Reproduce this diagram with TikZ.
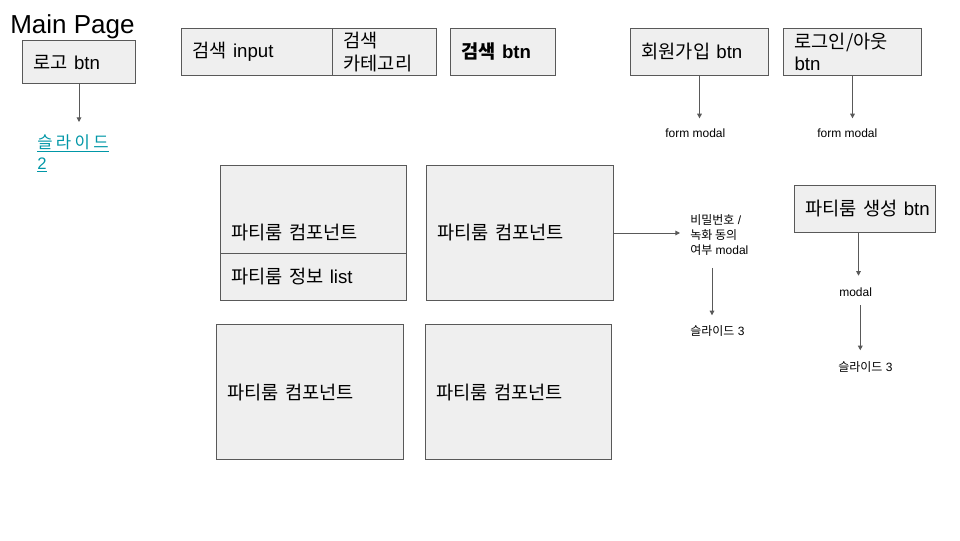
\documentclass[tikz,border=0pt]{standalone}
\usepackage{fontspec}
\usepackage{xcolor}
\usepackage{tikz}
\usetikzlibrary{arrows.meta}
\setmainfont{Liberation Sans}
\newfontfamily\kr{Noto Sans CJK KR}
\newfontfamily\krwide{Noto Sans CJK KR}[LetterSpace=20]
\newcommand{\ko}[1]{{\kr #1}}
\definecolor{boxfill}{RGB}{239,239,239}
\definecolor{boxline}{RGB}{89,89,89}
\definecolor{arrowgray}{RGB}{89,89,89}
\definecolor{linkteal}{RGB}{0,151,167}

\begin{document}
\begin{tikzpicture}[x=0.75pt, y=-0.75pt,
        box/.style={rectangle, draw=boxline, fill=boxfill, line width=0.75pt, anchor=north west,
                    inner xsep=8.25pt, inner ysep=0pt, align=left, font=\fontsize{14}{17}\selectfont},
        note/.style={anchor=west, inner sep=0pt, align=left, font=\fontsize{9}{11.25}\selectfont},
        link/.style={anchor=north west, inner sep=0pt, align=left, text=linkteal,
                     font=\fontsize{12.5}{16}\selectfont},
        arrow/.style={-{Triangle[width=3.5pt,length=3.5pt]}, draw=arrowgray, line width=0.75pt}
    ]
        \fill[white] (0,0) rectangle (960,540);
        \useasboundingbox (0,0) rectangle (960,540);

        % Page title
        \node[anchor=base west, inner sep=0pt, font=\fontsize{19.5}{23}\selectfont] (title) at (10,33) {Main Page};

        % Header buttons
        \node[box, text width=68.25pt, minimum height=32.25pt] (logo) at (22,40) {\ko{로고} btn};
        \node[box, text width=96.75pt, minimum height=35.25pt] (search) at (181,28) {\ko{검색} input};
        \node[box, text width=61.5pt, minimum height=35.25pt] (category) at (332,28) {\ko{검색}\\\ko{카테고리}};
        \node[box, text width=62.25pt, minimum height=35.25pt] (searchbtn) at (450,28) {\textbf{\ko{검색} btn}};
        \node[box, text width=87pt, minimum height=35.25pt] (signup) at (630,28) {\ko{회원가입} btn};
        \node[box, text width=87pt, minimum height=35.25pt] (login) at (783,28) {\ko{로그인/아웃}\\btn};

        % Party room components
        \node[box, text width=123pt, minimum height=101.25pt] (roomA) at (220,165) {\ko{파티룸 컴포넌트}};
        \node[box, text width=123pt, minimum height=35.25pt] (roominfo) at (220,253) {\ko{파티룸 정보} list};
        \node[box, text width=123.75pt, minimum height=101.25pt] (roomB) at (426,165) {\ko{파티룸 컴포넌트}};
        \node[box, text width=123.75pt, minimum height=101.25pt] (roomC) at (216,324) {\ko{파티룸 컴포넌트}};
        \node[box, text width=123pt, minimum height=101.25pt] (roomD) at (425,324) {\ko{파티룸 컴포넌트}};
        \node[box, text width=89.25pt, minimum height=35.25pt] (create) at (794,185) {\mbox{\ko{파티룸 생성} btn}};

        % Targets
        \node[link] (slide2) at (37,134) {\underline{{\krwide 슬라이드}}\\\underline{2}};
        \node[note] (form1) at (665,133) {form modal};
        \node[note] (form2) at (817,133) {form modal};
        \node[note, anchor=north west] (pw) at (690,214.5) {\ko{비밀번호} /\\\ko{녹화 동의}\\\ko{여부} modal};
        \node[note] (slide3a) at (690,331) {\ko{슬라이드} 3};
        \node[note] (modal) at (839,292) {modal};
        \node[note] (slide3b) at (838,367) {\ko{슬라이드} 3};

        % Arrows
        \draw[arrow, shorten >=9pt] (logo.south) -- (logo.south |- slide2.north);
        \draw[arrow, shorten >=7.5pt] (signup.south) -- (signup.south |- form1.north);
        \draw[arrow, shorten >=7.5pt] (login.south) -- (login.south |- form2.north);
        \draw[arrow, shorten >=7.5pt] (roomB.east) -- (pw.west |- roomB.east);
        \draw[arrow, shorten <=9pt, shorten >=7.5pt] ([xshift=16.5pt]pw.south west) -- ([xshift=16.5pt]pw.south west |- slide3a.north);
        \draw[arrow, shorten >=8.7pt] ([xshift=-4.875pt]create.south) -- ([xshift=-4.875pt]create.south |- modal.north);
        \draw[arrow, shorten <=6.5pt, shorten >=8.25pt] ([xshift=3.5pt]modal.south) -- ([xshift=3.5pt]modal.south |- slide3b.north);

    \end{tikzpicture}
\end{document}
